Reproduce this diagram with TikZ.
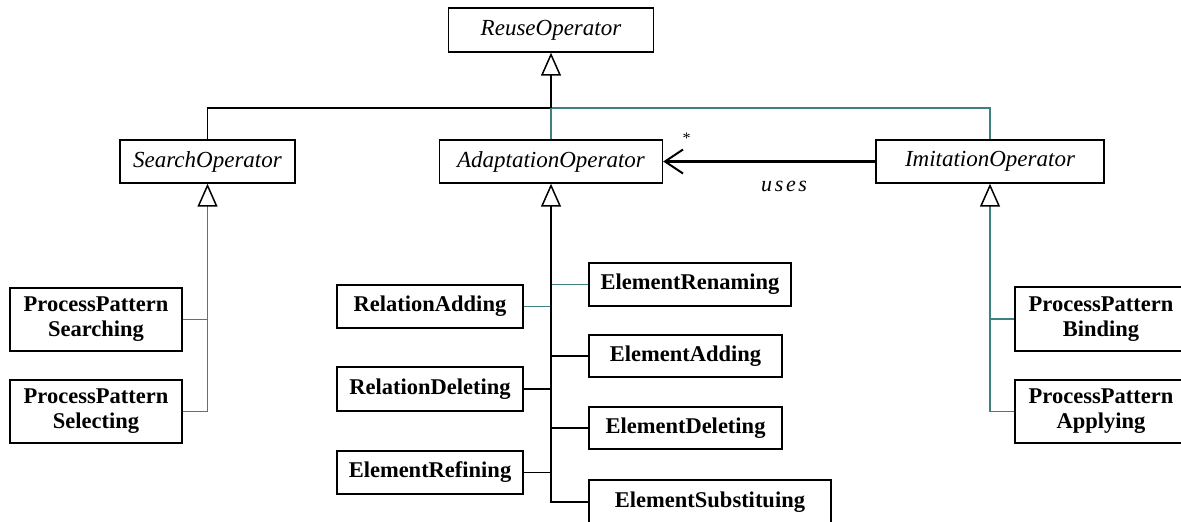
\documentclass[tikz,border=0pt]{standalone}
\usepackage{fontspec}
\setmainfont{Liberation Serif}
\newfontfamily\usesfont[LetterSpace=12]{Liberation Serif}
\usetikzlibrary{arrows.meta}
\definecolor{linkteal}{RGB}{64,128,128}
\tikzset{
  cls/.style={draw, line width=1.4pt, inner sep=0pt, align=center, fill=white},
  abstractcls/.style={cls, font=\fontsize{23}{26}\selectfont\itshape},
  leafcls/.style={cls, font=\fontsize{22.5}{25}\selectfont\bfseries},
  link/.style={line width=1.4pt},
  tealink/.style={link, draw=linkteal},
  gen/.style={-{Triangle[open, length=23pt, width=20pt, line width=1.5pt, color=black]}},
  useslink/.style={line width=2.2pt, -{Straight Barb[length=18pt, width=24pt, line width=2pt]}}
}
\begin{document}
\begin{tikzpicture}[x=1pt, y=-1pt]
\useasboundingbox (0,0) rectangle (1181,522);
\clip (0,0) rectangle (1181,522);

% abstract operators
\node[abstractcls, minimum width=205pt, minimum height=44pt] (reuse) at (551,30) {ReuseOperator};
\node[abstractcls, minimum width=175pt, minimum height=43pt] (search) at (207.5,161.5) {SearchOperator};
\node[abstractcls, minimum width=223pt, minimum height=43pt] (adapt) at (551,161.5) {AdaptationOperator};
\node[abstractcls, minimum width=228pt, minimum height=43pt] (imit) at (990,161.5) {ImitationOperator};

% search operations
\node[leafcls, minimum width=172pt, minimum height=63pt] (ppsearch) at (96,319.5) {ProcessPattern\\Searching};
\node[leafcls, minimum width=172pt, minimum height=63pt] (ppselect) at (96,411.5) {ProcessPattern\\Selecting};

% imitation operations
\node[leafcls, minimum width=172pt, minimum height=64pt] (ppbind) at (1101,319) {ProcessPattern\\Binding};
\node[leafcls, minimum width=172pt, minimum height=63pt] (ppapply) at (1101,411.5) {ProcessPattern\\Applying};

% adaptation operations
\node[leafcls, minimum width=186pt, minimum height=43pt] (reladd) at (430,306.5) {RelationAdding};
\node[leafcls, minimum width=186pt, minimum height=44pt] (reldel) at (430,389) {RelationDeleting};
\node[leafcls, minimum width=186pt, minimum height=43pt] (elref) at (430,472.5) {ElementRefining};
\node[leafcls, minimum width=202pt, minimum height=43pt] (elren) at (690,284.5) {ElementRenaming};
\node[leafcls, minimum width=193pt, minimum height=42pt] (eladd) at (685.5,356) {ElementAdding};
\node[leafcls, minimum width=193pt, minimum height=42pt] (eldel) at (685.5,428) {ElementDeleting};
\node[leafcls, minimum width=242pt, minimum height=44pt] (elsub) at (710,502) {\raisebox{3pt}{ElementSubstituing}};

% top level generalisation
\coordinate (jn) at (551,108);
\draw[link] (search.north) |- (jn);
\draw[tealink] (jn) -| (imit.north);
\draw[tealink] (adapt.north) -- (jn);
\draw[link, gen] (jn) -- (reuse.south);

% search subtree
\draw[tealink] (ppsearch.east) -- (ppsearch.east -| search.south);
\draw[tealink, gen] (ppselect.east) -| (search.south);

% imitation subtree
\draw[tealink] (ppbind.west) -- (ppbind.west -| imit.south);
\draw[tealink, gen] (ppapply.west) -| (imit.south);

% adaptation subtree
\draw[tealink] (elren.west) -- (elren.west -| adapt.south);
\draw[tealink] (reladd.east) -- (reladd.east -| adapt.south);
\draw[link] (eladd.west) -- (eladd.west -| adapt.south);
\draw[link] (reldel.east) -- (reldel.east -| adapt.south);
\draw[link] (eldel.west) -- (eldel.west -| adapt.south);
\draw[link] (elref.east) -- (elref.east -| adapt.south);
\draw[link, gen] (elsub.west) -| (adapt.south);

% usage dependency
\draw[useslink] (imit.west) -- (adapt.east)
  node[pos=0.89, above=14pt, font=\fontsize{16}{16}\selectfont] (mult) {*}
  node[pos=0.43, below=15pt, font=\usesfont\fontsize{22}{24}\selectfont\itshape] (useslbl) {uses};
\end{tikzpicture}
\end{document}
